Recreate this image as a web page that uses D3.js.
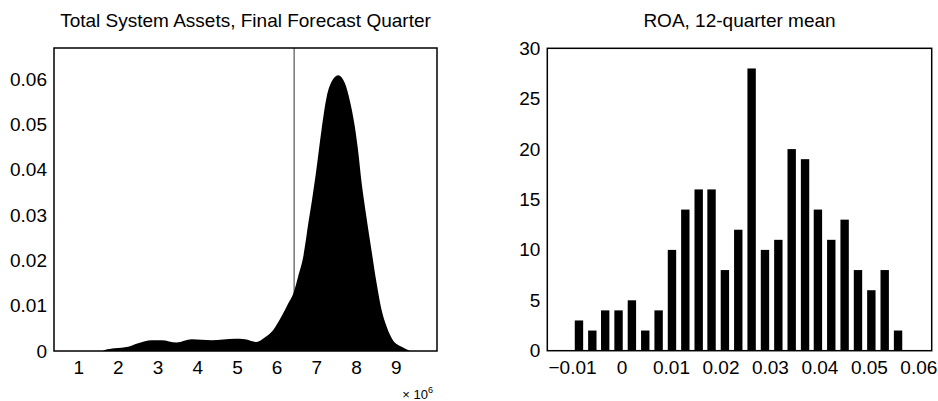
<!DOCTYPE html>
<html>
<head>
<meta charset="utf-8">
<script src="https://cdn.jsdelivr.net/npm/d3@7/dist/d3.min.js"></script>
<style>
  body { margin: 0; background: #fff; }
  text { font-family: "Liberation Sans", Arial, Helvetica, sans-serif; fill: #000; }
  .box { fill: none; stroke: #000; stroke-width: 1.5px; }
  .title { font-size: 19px; }
</style>
</head>
<body>
<svg id="chart" width="938" height="401"></svg>
<script>
  // density of total system assets (x in units of 1e6)
  let assetX = [1.62, 1.67, 1.92, 2.26, 2.51, 2.85, 3.10, 3.48, 3.86, 4.36, 4.95, 5.20, 5.49, 5.70,
    5.91, 6.12, 6.29, 6.42, 6.54, 6.67, 6.81, 6.89, 7.00, 7.13, 7.26, 7.38, 7.55, 7.72, 7.84, 7.97,
    8.05, 8.14, 8.26, 8.39, 8.52, 8.64, 8.77, 8.93, 9.15, 9.31, 9.36];
  let assetDensity = [0, 0.0002, 0.0006, 0.00095, 0.0017, 0.0024, 0.0024, 0.0019, 0.0026, 0.0024, 0.0027, 0.0026, 0.0020, 0.0030,
    0.0046, 0.0076, 0.0105, 0.0127, 0.0164, 0.0208, 0.0289, 0.0333, 0.040, 0.0488, 0.0561, 0.0594, 0.0609, 0.0591, 0.0554, 0.0495,
    0.0444, 0.0372, 0.0297, 0.0222, 0.0149, 0.0092, 0.0054, 0.0024, 0.00095, 0.0002, 0];
  let assetMarker = 6.44;
  let assetXTicks = [1, 2, 3, 4, 5, 6, 7, 8, 9];
  let assetYTicks = [0, 0.01, 0.02, 0.03, 0.04, 0.05, 0.06];

  // ROA histogram
  let roaBins = [-0.0086, -0.0059, -0.0033, -0.0006, 0.0021, 0.0048, 0.0075, 0.0102, 0.0129, 0.0156,
    0.0182, 0.0209, 0.0236, 0.0263, 0.0290, 0.0317, 0.0344, 0.0371, 0.0397, 0.0424,
    0.0451, 0.0478, 0.0505, 0.0532, 0.0559];
  let roaCounts = [3, 2, 4, 4, 5, 2, 4, 10, 14, 16, 16, 8, 12, 28, 10, 11, 20, 19, 14, 11, 13, 8, 6, 8, 2];
  let roaBinWidth = 0.00269;
  let roaXTicks = [-0.01, 0, 0.01, 0.02, 0.03, 0.04, 0.05, 0.06];
  let roaYTicks = [0, 5, 10, 15, 20, 25, 30];

  let svg = d3.select('#chart');
  let fmt = d3.format('~g');

  function title(g, x, text) {
    let [x0, x1] = x.range();
    g.append('text')
      .attr('class', 'title')
      .attr('x', (x0 + x1) / 2)
      .attr('y', 27)
      .attr('text-anchor', 'middle')
      .text(text);
  }

  function axes(g, x, y, xTicks, yTicks) {
    let [x0, x1] = x.range();
    let [y0, y1] = y.range();

    let xAxis = g.append('g')
      .attr('transform', 'translate(0,' + y0 + ')')
      .call(d3.axisBottom(x).tickValues(xTicks).tickFormat(fmt).tickSize(0).tickPadding(0));
    xAxis.select('.domain').remove();
    xAxis.selectAll('text')
      .attr('dy', null)
      .attr('y', 23)
      .style('font-size', '19px')
      .attr('fill', '#000');

    let yAxis = g.append('g')
      .attr('transform', 'translate(' + x0 + ',0)')
      .call(d3.axisLeft(y).tickValues(yTicks).tickFormat(fmt).tickSize(0).tickPadding(7));
    yAxis.select('.domain').remove();
    yAxis.selectAll('text')
      .style('font-size', '19px')
      .attr('fill', '#000');

    g.append('rect')
      .attr('class', 'box')
      .attr('x', x0)
      .attr('y', y1)
      .attr('width', x1 - x0)
      .attr('height', y0 - y1);
  }

  // ---- left: density ----
  let xa = d3.scaleLinear().domain([0.39, 10.04]).range([54, 437]);
  let ya = d3.scaleLinear().domain([0, 0.0669]).range([351, 48]);
  let left = svg.append('g');
  title(left, xa, 'Total System Assets, Final Forecast Quarter');

  // marker line sits behind the filled density
  left.append('line')
    .attr('x1', xa(assetMarker))
    .attr('x2', xa(assetMarker))
    .attr('y1', ya.range()[0])
    .attr('y2', ya.range()[1])
    .attr('stroke', '#333')
    .attr('stroke-width', 1);

  let area = d3.area()
    .x(function(d, i) { return xa(assetX[i]); })
    .y0(ya(0))
    .y1(function(d) { return ya(d); })
    .curve(d3.curveMonotoneX);

  left.append('path')
    .datum(assetDensity)
    .attr('d', area)
    .attr('fill', '#000');

  axes(left, xa, ya, assetXTicks, assetYTicks);

  let expo = left.append('text')
    .attr('x', 433)
    .attr('y', 399)
    .attr('text-anchor', 'end')
    .style('font-size', '13px');
  expo.append('tspan').text('× 10');
  expo.append('tspan').attr('dy', -6).style('font-size', '9px').text('6');

  // ---- right: histogram ----
  let xr = d3.scaleLinear().domain([-0.015, 0.0627]).range([547.3, 931.7]);
  let yr = d3.scaleLinear().domain([0, 30]).range([350.7, 48.3]);
  let right = svg.append('g');
  title(right, xr, 'ROA, 12-quarter mean');

  let barW = xr(roaBinWidth) - xr(0);
  right.selectAll('.bar')
    .data(roaCounts)
    .enter().append('rect')
    .attr('class', 'bar')
    .attr('x', function(d, i) { return xr(roaBins[i]) - barW * 0.315; })
    .attr('width', barW * 0.63)
    .attr('y', function(d) { return yr(d); })
    .attr('height', function(d) { return yr(0) - yr(d); })
    .attr('fill', '#000');

  axes(right, xr, yr, roaXTicks, roaYTicks);
</script>
</body>
</html>
